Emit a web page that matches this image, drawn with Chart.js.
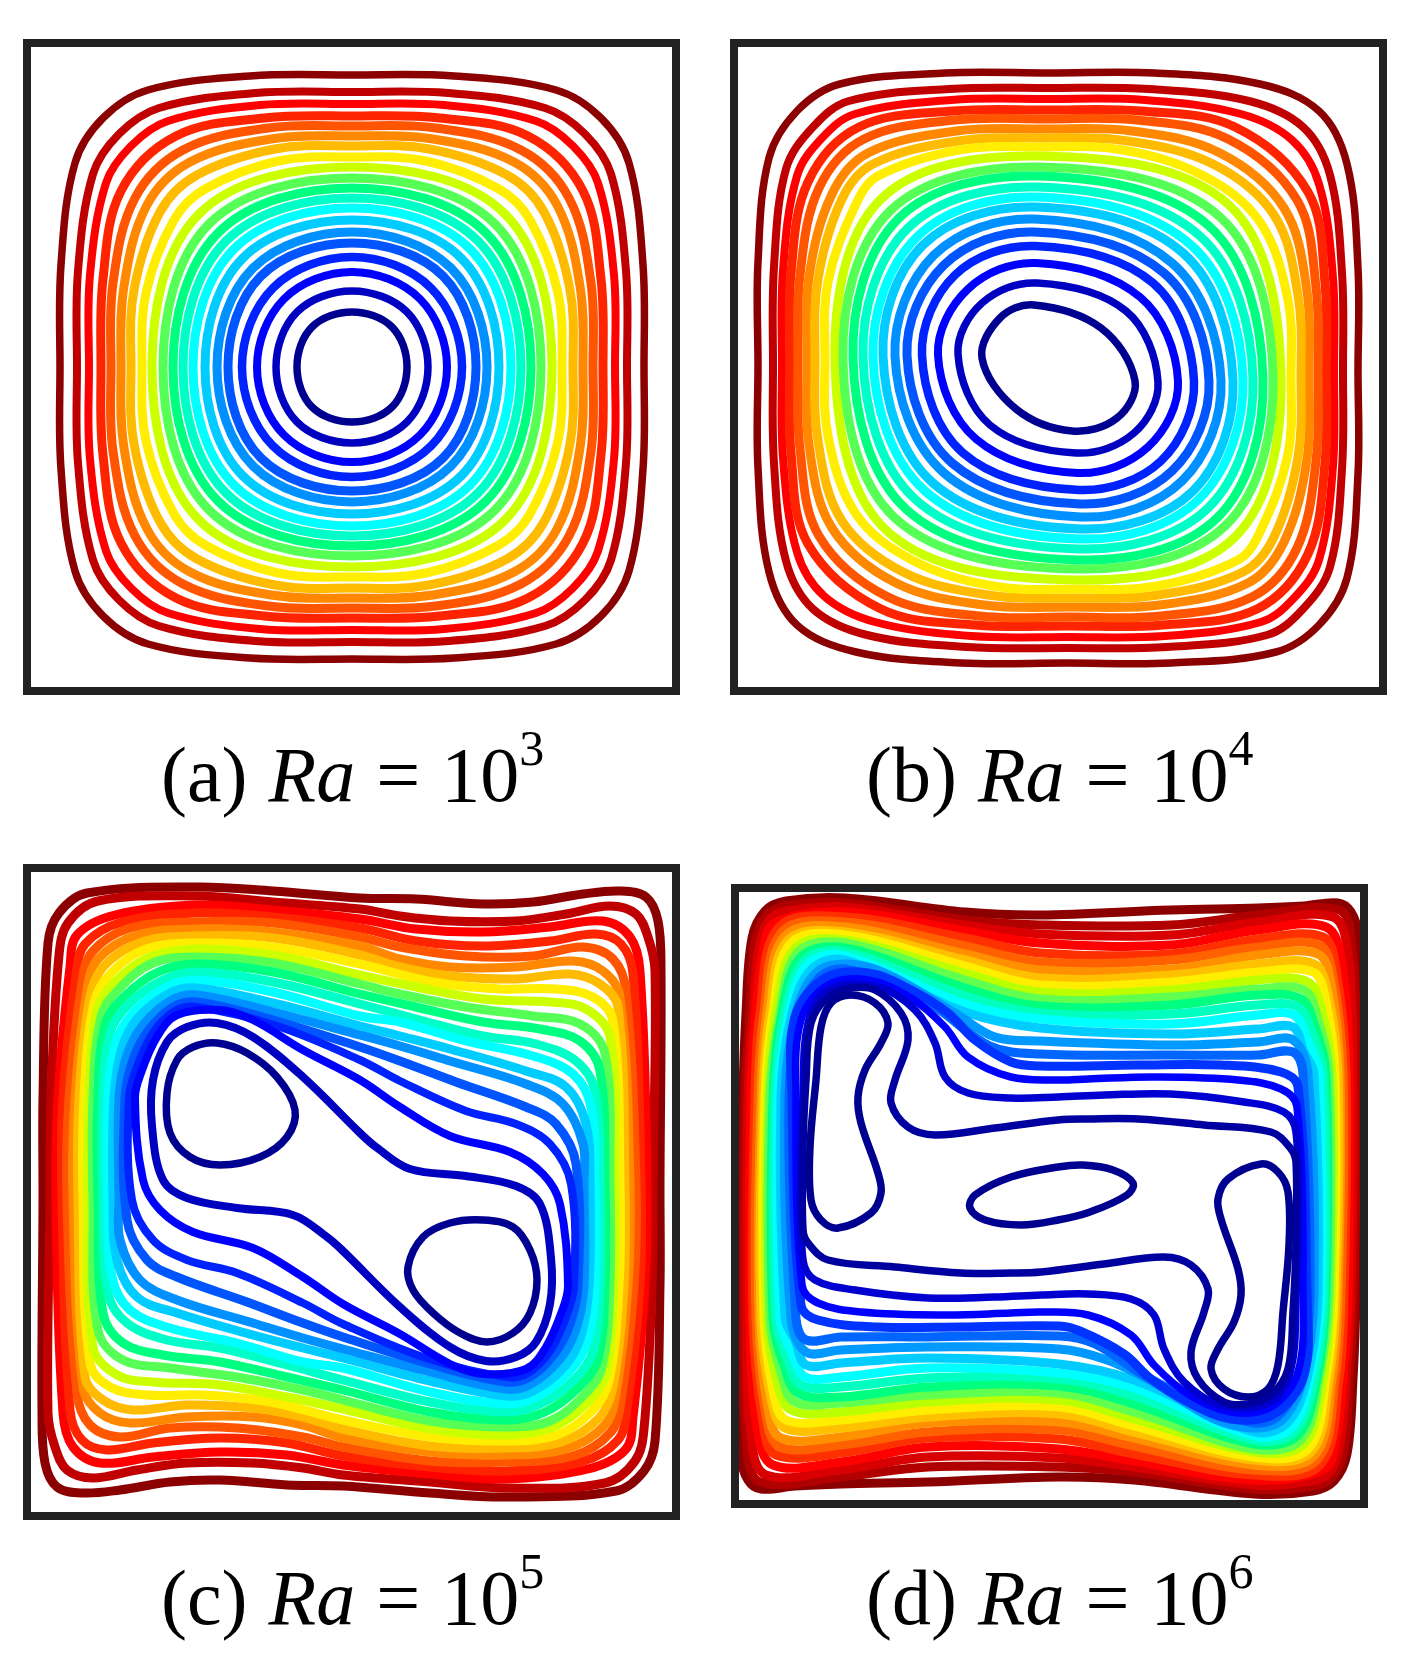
<!DOCTYPE html>
<html><head><meta charset="utf-8">
<style>
html,body{margin:0;padding:0;background:#fff;width:1411px;height:1660px;overflow:hidden}
canvas{position:absolute}
.cap{position:absolute;font-family:"Liberation Serif",serif;font-size:78px;line-height:76px;color:#000;white-space:nowrap;word-spacing:1.5px}
.cap i{font-style:italic}
.cap span{font-size:50px;position:relative;top:-36px}
</style>
<script src="https://cdn.jsdelivr.net/npm/chart.js@4"></script>
</head><body>
<canvas id="pa" width="657" height="656" style="left:23px;top:39px"></canvas>
<canvas id="pb" width="657" height="656" style="left:730px;top:39px"></canvas>
<canvas id="pc" width="657" height="656" style="left:23px;top:864px"></canvas>
<canvas id="pd" width="637" height="624" style="left:731px;top:884px"></canvas>
<div class="cap" style="left:161px;top:737px">(a) <i>Ra</i> = 10<span>3</span></div>
<div class="cap" style="left:866px;top:737px">(b) <i>Ra</i> = 10<span>4</span></div>
<div class="cap" style="left:161px;top:1560px">(c) <i>Ra</i> = 10<span>5</span></div>
<div class="cap" style="left:866px;top:1560px">(d) <i>Ra</i> = 10<span>6</span></div>
<script>
// Streamlines: each line is a flat x,y,x,y,... list, outermost first.
const levelColors=['#8b0000','#c00000','#ff0000','#ff2400','#ff5500','#ff8800','#ffbb00','#ffee00','#ccff00','#55ff55','#00ff80','#00ffc8','#00ffff','#00ccff','#0090ff','#0055ff','#0022ff','#0000ff','#0000c0','#000090'];
const levelWidths=[7.5,8,8,9,9,9,9,9,9,9,9,9,9,9,9,9,8.5,8,7.5,7.5];
const ringColors=['#8b0000','#b00000','#d80000','#ff0000','#ff3000','#ff6000','#ff9000','#ffc000','#ffee00','#bbff00','#60ff50','#00ff80','#00ffc0','#00ffff','#00ccff','#0099ff','#0066ff','#0033ff','#0000ff','#0000d0','#0000a0'];
const eyeColor='#000090';

const linesA=[
[325,32,427,33,529,47,574,75,602,120,616,222,617,324,616,426,602,528,574,573,529,601,427,615,325,616,223,615,121,601,76,573,48,528,34,426,33,324,34,222,48,120,76,75,121,47,223,33],
[325,49,421,50,518,65,558,91,584,131,599,228,600,324,599,420,584,517,558,557,518,583,421,598,325,599,229,598,132,583,92,557,66,517,51,420,50,324,51,228,66,131,92,91,132,65,229,50],
[325,61,417,62,509,78,546,103,571,140,587,232,588,324,587,416,571,508,546,545,509,570,417,586,325,587,233,586,141,570,104,545,79,508,63,416,62,324,63,232,79,140,104,103,141,78,233,62],
[325,73,413,75,501,93,556,148,574,236,576,324,574,412,556,500,501,555,413,573,325,575,237,573,149,555,94,500,76,412,74,324,76,236,94,148,149,93,237,75],
[325,83,409,85,494,107,542,155,564,240,566,324,564,408,542,493,494,541,409,563,325,565,241,563,156,541,108,493,86,408,84,324,86,240,108,155,156,107,241,85],
[325,93,406,96,487,119,530,162,553,243,556,324,553,405,530,486,487,529,406,552,325,555,244,552,163,529,120,486,97,405,94,324,97,243,120,162,163,119,244,96],
[325,103,402,106,480,132,517,169,543,247,546,324,543,401,517,479,480,516,402,542,325,545,248,542,170,516,133,479,107,401,104,324,107,247,133,169,170,132,248,106],
[325,114,399,118,472,146,503,177,531,250,535,324,531,398,503,471,472,502,399,530,325,534,251,530,178,502,147,471,119,398,115,324,119,250,147,177,178,146,251,118],
[325,124,478,171,525,324,478,477,325,524,172,477,125,324,172,171],
[325,135,468,181,514,324,468,467,325,513,182,467,136,324,182,181],
[325,145,459,190,504,324,459,458,325,503,191,458,146,324,191,190],
[325,155,451,198,494,324,451,450,325,493,199,450,156,324,199,198],
[325,165,443,206,484,324,443,442,325,483,207,442,166,324,207,206],
[325,177,434,215,472,324,434,433,325,471,216,433,178,324,216,215],
[325,189,424,225,460,324,424,423,325,459,226,423,190,324,226,225],
[325,200,416,233,449,324,416,415,325,448,234,415,201,324,234,233],
[325,214,404,245,435,324,404,403,325,434,246,403,215,324,246,245],
[325,229,393,256,420,324,393,392,325,419,257,392,230,324,257,256],
[325,248,380,269,401,324,380,379,325,400,270,379,249,324,270,269],
[325,269,365,284,380,324,365,364,325,379,285,364,270,324,285,284]
];

const linesB=[
[316,30,421,30,526,41,585,68,613,121,624,225,624,328,624,431,613,535,585,582,542,609,437,620,332,620,227,620,122,609,63,582,35,529,24,425,24,322,24,219,35,115,63,68,106,41,211,30],
[315,45,415,46,515,58,569,84,596,132,608,230,609,328,608,426,596,524,569,566,533,592,433,604,333,605,233,604,133,592,79,566,52,518,40,420,39,322,40,224,52,126,79,84,115,58,215,46],
[314,56,411,57,507,71,558,97,585,141,599,235,600,329,599,423,585,517,560,555,527,579,431,593,334,594,237,593,141,579,90,553,63,509,49,415,48,321,49,227,63,133,88,95,121,71,217,57],
[313,67,407,68,501,84,574,149,591,240,592,330,591,420,574,511,523,566,429,582,335,583,241,582,147,566,74,501,57,410,56,320,57,230,74,139,125,84,219,68],
[312,76,403,77,494,96,563,157,582,244,584,331,582,418,563,505,518,554,427,573,336,574,245,573,154,554,85,493,66,406,64,319,66,232,85,145,130,96,221,77],
[310,86,398,88,486,110,550,165,573,248,575,332,573,416,550,499,514,540,426,562,338,564,250,562,162,540,98,485,75,402,73,318,75,234,98,151,134,110,222,88],
[309,95,394,98,479,121,540,172,564,252,567,333,564,414,540,494,509,529,424,552,339,555,254,552,169,529,108,478,84,398,81,317,84,236,108,156,139,121,224,98],
[307,104,389,107,470,133,526,179,554,257,557,334,554,411,526,489,504,517,423,543,341,546,259,543,178,517,122,471,94,393,91,316,94,239,122,161,144,133,225,107],
[306,113,495,162,547,334,501,494,342,537,153,488,101,316,147,156],
[304,124,486,174,539,335,492,482,344,526,162,476,109,315,156,168],
[304,133,475,183,529,335,483,475,344,517,173,467,119,315,165,175],
[303,144,466,193,519,336,474,465,345,506,182,457,129,314,174,185],
[302,154,457,202,509,336,465,456,346,496,191,448,139,314,183,194],
[301,164,449,210,499,337,459,448,347,486,199,440,149,313,189,202],
[300,176,438,220,487,337,448,438,347,474,210,430,161,313,200,212],
[300,189,430,230,475,338,438,428,346,461,218,420,173,312,210,222],
[301,203,419,240,460,338,427,418,345,447,229,410,188,312,221,232],
[302,220,406,254,444,338,414,404,344,430,242,396,204,312,234,246],
[303,240,392,268,424,339,400,390,342,410,256,382,224,311,248,260],
[300,262,367,285,401,338,383,375,338,388,282,366,248,315,266,275]
];

const linesC=[
[333,30,246,23,170,19,60,25,32,45,21,75,16,230,16,332,15,545,18,595,30,619,56,625,93,622,143,614,193,612,260,617,316,618,403,625,479,629,589,623,617,603,628,573,633,418,633,316,634,103,631,53,619,29,593,23,556,26,506,34,456,36,389,31],
[333,41,246,34,170,28,71,33,41,55,32,87,24,230,23,332,21,545,28,579,40,602,66,610,110,602,160,595,226,595,276,600,316,607,403,614,479,620,578,615,608,593,617,561,625,418,626,316,628,103,621,69,609,46,583,38,539,46,489,53,423,53,373,48],
[333,51,246,42,170,37,88,47,50,67,43,99,31,230,29,332,36,545,46,579,73,595,126,589,193,584,260,587,316,597,403,606,479,611,561,601,599,581,606,549,618,418,620,316,613,103,603,69,576,53,523,59,456,64,389,61],
[333,60,246,49,170,45,95,54,58,76,49,107,36,230,35,332,43,542,55,572,80,582,126,575,193,570,260,575,316,588,403,599,479,603,554,594,591,572,600,541,613,418,614,316,606,106,594,76,569,66,523,73,456,78,389,73],
[333,69,246,55,170,54,103,60,65,84,55,115,42,230,40,332,50,525,63,557,93,569,143,560,210,560,276,569,316,579,403,593,479,594,546,588,584,564,594,533,607,418,609,316,599,123,586,91,556,79,506,88,439,88,373,79],
[333,78,246,64,170,61,110,67,71,91,60,122,48,230,46,332,56,519,73,545,103,555,160,549,226,549,276,557,316,570,403,584,479,587,539,581,578,557,589,526,601,418,603,316,593,129,576,103,546,93,489,99,423,99,373,91],
[333,87,246,70,170,68,115,74,77,98,63,129,52,230,51,332,58,509,76,532,106,542,160,537,226,540,276,549,316,561,403,578,479,580,534,574,572,550,586,519,597,418,598,316,591,139,573,116,543,106,489,111,423,108,373,99],
[333,96,246,79,170,75,119,81,84,105,67,135,57,230,56,332,63,495,83,519,120,527,176,527,243,534,316,552,403,569,479,573,530,567,565,543,582,513,592,418,593,316,586,153,566,129,529,121,473,121,406,114],
[333,107,246,87,170,81,123,89,88,114,70,142,62,230,61,332,66,479,90,507,126,514,193,517,260,529,316,541,403,561,479,567,526,559,561,534,579,506,587,418,588,316,583,169,559,141,523,134,456,131,389,119],
[333,116,246,95,170,89,126,95,92,121,74,149,66,230,66,332,71,462,96,492,143,500,210,509,276,522,316,532,403,553,479,559,523,553,557,527,575,499,583,418,583,316,578,186,553,156,506,148,439,139,373,126],
[333,126,246,104,170,96,131,104,97,129,78,157,71,230,71,332,76,445,96,475,136,487,193,494,260,509,316,522,403,544,479,552,518,544,552,519,571,491,578,418,578,316,573,203,553,173,513,161,456,154,389,139],
[333,136,246,114,170,104,136,112,102,136,83,165,76,230,76,332,81,425,100,455,140,472,193,480,260,497,316,512,403,534,479,544,513,536,547,512,566,483,573,418,573,316,568,223,549,193,509,176,456,168,389,151],
[333,148,246,124,170,112,140,119,107,144,89,174,81,230,81,332,85,409,103,442,143,460,210,475,276,494,316,500,403,524,479,536,509,529,542,504,560,474,568,418,568,316,564,239,546,206,506,188,439,173,373,154],
[333,158,246,135,170,120,143,125,111,150,95,180,87,230,86,332,90,392,110,429,150,445,226,467,276,480,316,490,403,513,479,528,506,523,538,498,554,468,562,418,563,316,559,256,539,219,499,203,423,181,373,168],
[333,167,246,144,170,127,145,132,116,157,100,187,92,230,92,332,93,372,113,412,150,432,226,455,276,470,316,481,403,504,479,521,504,516,533,491,549,461,557,418,557,316,556,276,536,236,499,216,423,193,373,178],
[333,179,246,152,170,134,146,139,121,163,106,192,98,230,100,352,120,392,150,409,220,434,276,455,316,469,403,496,479,514,503,509,528,485,543,456,551,418,549,296,529,256,499,239,429,214,373,193],
[333,192,250,158,170,139,148,143,126,165,110,199,102,230,105,332,126,372,160,392,210,405,276,435,316,456,399,490,479,509,501,505,523,483,539,449,547,418,544,316,523,276,489,256,439,243,373,213],
[333,212,276,182,226,152,193,142,150,147,130,169,114,205,108,230,116,312,133,342,166,364,226,380,276,409,316,436,373,466,423,496,456,506,499,501,519,479,535,443,541,418,533,336,516,306,483,284,423,268,373,239],
[333,265,276,209,226,169,190,155,160,159,140,174,126,212,125,258,136,312,160,330,210,340,266,347,300,369,316,383,373,439,423,479,459,493,489,489,509,474,523,436,524,390,513,336,489,318,439,308,383,301,349,279]
];
const eyesC=[
[190,175,220,185,250,209,268,242,260,269,233,289,193,297,163,289,143,265,140,225,150,192,166,179],
[456,352,486,359,503,382,510,412,503,445,486,465,460,474,433,465,406,445,386,422,381,399,396,369,423,355]
];

const linesD=[
[305,27,230,24,110,10,51,13,30,23,17,50,11,125,8,209,6,430,6,569,13,592,26,601,60,598,106,596,193,594,324,589,399,592,519,606,578,603,599,593,612,566,618,491,621,407,623,186,623,47,616,24,603,15,569,18,523,20,436,22],
[305,37,230,32,110,15,55,17,33,26,20,55,15,125,10,209,8,430,12,560,25,594,106,589,193,579,324,579,399,584,519,601,574,599,596,590,609,561,614,491,619,407,621,186,617,56,604,22,523,27,436,37],
[305,46,230,37,110,19,60,22,36,30,24,60,18,125,13,209,11,430,16,550,31,587,106,582,193,569,324,570,399,579,519,597,569,594,593,586,605,556,611,491,616,407,618,186,613,66,598,29,523,34,436,47],
[305,55,230,43,110,24,40,35,28,65,21,125,16,209,15,430,22,540,38,577,106,574,193,559,324,561,399,573,519,592,589,581,601,551,608,491,613,407,614,186,607,76,591,39,523,42,436,57],
[305,65,230,50,110,29,44,39,25,125,20,209,18,430,28,535,41,567,106,565,193,550,324,551,399,566,519,587,585,577,604,491,609,407,611,186,601,81,588,49,523,51,436,66],
[305,74,230,58,110,34,47,44,29,125,23,209,21,430,31,527,45,559,106,557,193,544,324,542,399,558,519,582,582,572,600,491,606,407,608,186,598,89,584,57,523,59,436,72],
[305,82,230,66,110,39,50,48,32,125,26,209,24,430,33,520,46,550,106,549,193,535,324,534,399,550,519,577,579,568,597,491,603,407,605,186,596,96,583,66,523,67,436,81],
[305,90,230,72,110,44,53,52,35,125,28,209,26,430,36,510,50,540,106,540,193,529,324,526,399,544,519,572,576,564,594,491,601,407,603,186,593,106,579,76,523,76,436,87],
[305,97,230,78,110,47,56,55,38,125,30,209,29,430,38,502,51,532,106,532,193,522,324,519,399,538,519,569,573,561,591,491,599,407,600,186,591,114,578,84,523,84,436,94],
[305,104,230,85,110,52,60,60,41,125,33,209,32,430,42,493,56,522,106,524,193,514,324,512,399,531,519,564,569,556,588,491,596,407,597,186,587,123,573,94,523,92,436,102],
[305,111,230,92,110,55,63,64,45,125,35,209,35,430,46,485,60,514,106,515,193,507,324,505,399,524,519,561,566,552,584,491,594,407,594,186,583,131,569,102,523,101,436,109],
[305,118,230,100,110,60,66,69,47,125,38,209,38,430,49,477,63,505,106,509,193,499,324,498,399,516,519,556,563,547,582,491,591,407,591,186,580,139,566,111,523,107,436,117],
[305,125,230,108,110,64,70,72,50,125,40,209,41,430,52,470,66,497,106,499,193,490,324,491,399,508,519,552,559,544,579,491,589,407,588,186,577,146,563,119,523,117,436,126],
[305,131,230,116,110,68,73,76,54,125,43,209,45,430,56,462,70,489,106,489,193,480,324,485,399,500,519,548,556,540,575,491,586,407,584,186,573,154,559,127,523,127,436,136],
[305,140,230,124,110,72,77,81,57,125,46,209,50,430,60,452,71,477,106,475,193,470,324,476,399,492,519,544,552,535,572,491,583,407,579,186,569,164,558,139,523,141,436,146],
[305,153,260,149,220,125,150,85,110,76,81,85,61,125,50,209,56,430,71,464,106,462,193,459,324,461,372,472,418,494,479,531,519,540,548,531,568,491,579,407,573,186,558,152,523,154,436,157],
[305,166,255,158,200,119,160,99,110,81,85,89,65,125,54,209,61,430,71,452,106,449,193,449,324,448,360,456,410,488,469,517,519,535,544,527,564,491,575,407,568,186,558,164,523,167,436,167],
[305,178,276,174,240,152,213,125,176,102,133,85,90,90,60,129,57,209,66,417,83,432,143,439,226,439,324,438,345,443,389,466,416,491,453,514,496,531,539,526,569,487,572,407,563,199,546,184,486,177,403,177],
[323,192,276,189,233,169,210,139,176,110,133,92,93,97,66,132,61,209,67,397,83,415,126,424,210,427,276,425,306,424,353,427,396,447,419,477,453,506,496,524,536,519,563,484,568,407,562,219,546,201,503,192,419,189,353,191],
[323,209,276,210,233,205,210,189,200,155,180,122,143,99,93,102,73,135,68,209,66,275,68,372,80,392,120,402,193,410,260,409,306,407,353,406,396,411,419,427,429,461,449,494,486,517,536,514,556,481,561,407,563,341,561,244,549,224,509,214,436,206,369,207],
[323,232,260,240,200,247,173,239,156,215,160,192,173,152,166,125,140,102,116,100,93,109,76,135,71,192,68,259,68,342,73,355,93,372,160,379,226,385,276,385,306,384,369,376,429,369,456,377,473,401,469,424,456,464,463,491,489,514,513,516,536,507,553,481,558,424,561,357,561,274,556,261,536,244,469,237,403,231,353,231]
];
const eyesD=[
[116,107,140,115,153,135,146,155,130,182,123,209,126,235,143,285,146,305,136,325,103,340,86,332,76,312,75,259,81,192,86,139,96,115],
[513,509,489,501,476,481,483,461,499,434,506,407,503,381,486,331,483,311,493,291,526,276,543,284,553,304,554,357,548,424,543,477,533,501],
[235,320,240,307,276,289,323,279,348,277,378,282,398,295,392,307,355,324,323,332,286,337,250,332]
];

function toPoints(flat){const p=[];for(let i=0;i<flat.length;i+=2)p.push({x:flat[i],y:flat[i+1]});return p;}
function ds(flat,color,width){return {data:toPoints(flat),borderColor:color,borderWidth:width,tension:0.36,spanGaps:true,fill:false,pointRadius:0,pointHoverRadius:0,capBezierPoints:false,borderJoinStyle:'round',clip:false};}

const closeAndFrame={id:'closeAndFrame',
  beforeDatasetDraw(chart,args){const l=args.meta.dataset;if(l&&!l._loop){l._loop=true;l._fullLoop=true;l._pointsUpdated=false;delete l._segments;delete l._path;}},
  afterDatasetsDraw(chart){const c=chart.ctx,a=chart.chartArea;c.save();c.strokeStyle='#222';c.lineWidth=8;c.lineJoin='miter';c.strokeRect(a.left,a.top,a.right-a.left,a.bottom-a.top);c.restore();}
};
function draw(id,w,h,datasets){
  new Chart(document.getElementById(id),{type:'line',data:{datasets},plugins:[closeAndFrame],options:{responsive:false,animation:false,events:[],layout:{padding:4},
    plugins:{legend:{display:false},tooltip:{enabled:false},title:{display:false}},
    scales:{x:{type:'linear',display:false,min:0,max:w},y:{type:'linear',display:false,reverse:true,min:0,max:h}}}});
}
draw('pa',649,648,linesA.map((l,i)=>ds(l,levelColors[i],levelWidths[i])).reverse());
draw('pb',649,648,linesB.map((l,i)=>ds(l,levelColors[i],levelWidths[i])).reverse());
draw('pc',649,648,eyesC.map(l=>ds(l,eyeColor,7.5)).concat(linesC.map((l,i)=>ds(l,levelColors[i],i<16?9:8)).reverse()));
draw('pd',629,616,eyesD.map(l=>ds(l,eyeColor,7.5)).concat(linesD.map((l,i)=>ds(l,ringColors[i],i<18?9:7.5)).reverse()));
</script>
</body></html>
